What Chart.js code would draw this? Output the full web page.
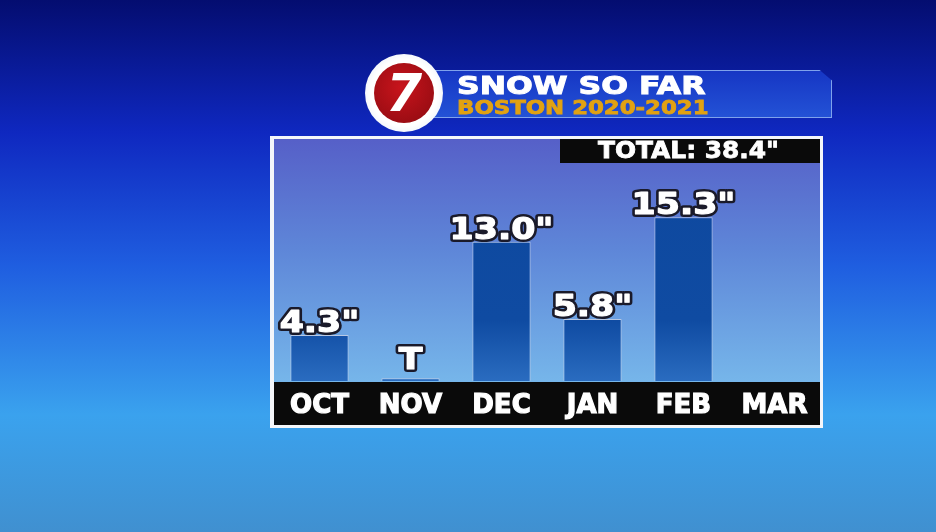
<!DOCTYPE html>
<html>
<head>
<meta charset="utf-8">
<script src="https://cdn.jsdelivr.net/npm/chart.js@4/dist/chart.umd.min.js"></script>
<style>
  body { margin: 0; overflow: hidden; background: #1a3fd8; font-family: "DejaVu Sans", sans-serif; }
  #wrap { position: relative; width: 936px; height: 532px; }
  #canvas { position: absolute; left: 0; top: 0; }
  .banner {
    position: absolute; left: 420px; top: 70px; width: 412px; height: 48px;
    background: linear-gradient(#1636c4, #2352d6);
    border: 1px solid #7fa2ec; box-sizing: border-box;
    clip-path: polygon(0 0, 97% 0, 100% 22%, 100% 100%, 0 100%);
  }
  .title {
    position: absolute; left: 457px; top: 71px; color: #fff; font-weight: bold;
    font-size: 25px; white-space: nowrap; transform: scaleX(1.26); transform-origin: left top;
    -webkit-text-stroke: 1px #fff;
  }
  .subtitle {
    position: absolute; left: 457px; top: 96px; color: #e2a212; font-weight: bold;
    font-size: 19px; white-space: nowrap; transform: scaleX(1.2); transform-origin: left top;
    -webkit-text-stroke: 0.8px #e2a212;
  }
  .logo {
    position: absolute; left: 365px; top: 54px; width: 78px; height: 78px; border-radius: 50%;
    background: radial-gradient(#ffffff 60%, #d8e4f4 100%);
  }
  .logo-in {
    position: absolute; left: 9px; top: 9px; width: 60px; height: 60px; border-radius: 50%;
    background: radial-gradient(circle at 45% 40%, #c8141c, #8c0a10);
  }
  .seven {
    position: absolute; left: 0; top: 1px; width: 60px; text-align: center; color: #fff;
    font-weight: bold; font-style: italic; font-size: 52px; line-height: 58px;
  }
  .total {
    position: absolute; left: 560px; top: 139px; width: 260px; height: 24px; background: #0a0a0a;
  }
  .total span {
    position: absolute; left: 38px; top: -2px; color: #fff; font-weight: bold; font-size: 23px;
    white-space: nowrap; transform: scaleX(1.08); transform-origin: left top;
    -webkit-text-stroke: 0.8px #fff;
  }
</style>
</head>
<body>
<div id="wrap">
  <canvas id="canvas" width="936" height="532"></canvas>
  <div class="banner"></div>
  <div class="logo"><div class="logo-in"><div class="seven">7</div></div></div>
  <div class="title">SNOW SO FAR</div>
  <div class="subtitle">BOSTON 2020-2021</div>
  <div class="total"><span>TOTAL: 38.4"</span></div>
</div>
<script>
// monthly snowfall, inches (NOV = trace)
var months = ['OCT', 'NOV', 'DEC', 'JAN', 'FEB', 'MAR'];
var snowfall = [4.3, 0.25, 13.0, 5.8, 15.3, null];
var valueLabels = ['4.3"', 'T', '13.0"', '5.8"', '15.3"', ''];

// page background + framed panel + black axis band
var backdrop = {
  id: 'backdrop',
  beforeDraw: function (chart) {
    var ctx = chart.ctx;
    var bg = ctx.createLinearGradient(0, 0, 0, 532);
    bg.addColorStop(0, '#040d70');
    bg.addColorStop(0.25, '#0f28c0');
    bg.addColorStop(0.5, '#1f5ee0');
    bg.addColorStop(0.78, '#3aa2ee');
    bg.addColorStop(1, '#4090d0');
    ctx.save();
    ctx.fillStyle = bg;
    ctx.fillRect(0, 0, 936, 532);

    // white frame
    ctx.fillStyle = '#f4f6fa';
    ctx.fillRect(270, 136, 553, 292);
    var panel = ctx.createLinearGradient(0, 140, 0, 382);
    panel.addColorStop(0, '#5660c8');
    panel.addColorStop(0.45, '#5e86d8');
    panel.addColorStop(1, '#76b6ea');
    ctx.fillStyle = panel;
    ctx.fillRect(274, 139, 546, 243);

    // black band behind month labels
    ctx.fillStyle = '#0a0a0a';
    ctx.fillRect(274, 382, 546, 43);
    ctx.restore();
  }
};

// value text over each bar
var barValues = {
  id: 'barValues',
  afterDatasetsDraw: function (chart) {
    var ctx = chart.ctx;
    var meta = chart.getDatasetMeta(0);
    ctx.save();
    ctx.font = 'bold 31px "DejaVu Sans"';
    ctx.textAlign = 'center';
    ctx.textBaseline = 'alphabetic';
    ctx.lineJoin = 'round';
    meta.data.forEach(function (bar, i) {
      var txt = valueLabels[i];
      if (!txt) return;
      var gap = (i === 1) ? 9 : 3;
      ctx.save();
      ctx.translate(bar.x, bar.y - gap);
      ctx.scale(1.12, 1);
      ctx.lineWidth = 6;
      ctx.strokeStyle = '#1a1a2a';
      ctx.strokeText(txt, 0, 0);
      ctx.fillStyle = '#ffffff';
      ctx.fillText(txt, 0, 0);
      ctx.lineWidth = 1.2;
      ctx.strokeStyle = '#ffffff';
      ctx.strokeText(txt, 0, 0);
      ctx.restore();
    });
    ctx.restore();
  }
};

var ctx = document.getElementById('canvas').getContext('2d');
var myChart = new Chart(ctx, {
  type: 'bar',
  data: {
    labels: months,
    datasets: [{
      label: 'Snowfall',
      data: snowfall,
      backgroundColor: function (c) {
        var area = c.chart.chartArea;
        if (!area) return '#0f4aa0';
        var g = c.chart.ctx.createLinearGradient(0, area.top, 0, area.bottom);
        g.addColorStop(0, '#0e489e');
        g.addColorStop(0.75, '#0f4ba2');
        g.addColorStop(1, '#2a6cc0');
        return g;
      },
      borderColor: '#b8c8e4',
      borderWidth: 1,
      borderSkipped: 'bottom',
      barPercentage: 0.64,
      categoryPercentage: 1
    }]
  },
  options: {
    responsive: false,
    animation: false,
    layout: { padding: { left: 274, right: 116, top: 139, bottom: 107 } },
    plugins: {
      legend: { display: false },
      tooltip: { enabled: false }
    },
    scales: {
      x: {
        grid: { display: false, drawTicks: false },
        border: { display: false },
        ticks: {
          color: '#ffffff',
          padding: 10,
          textStrokeColor: '#ffffff',
          textStrokeWidth: 1.2,
          font: { family: 'DejaVu Sans', weight: 'bold', size: 26 }
        },
        afterFit: function (s) { s.height = 44; }
      },
      y: {
        display: false,
        min: 0,
        max: 22.6
      }
    }
  },
  plugins: [backdrop, barValues]
});
</script>
</body>
</html>
